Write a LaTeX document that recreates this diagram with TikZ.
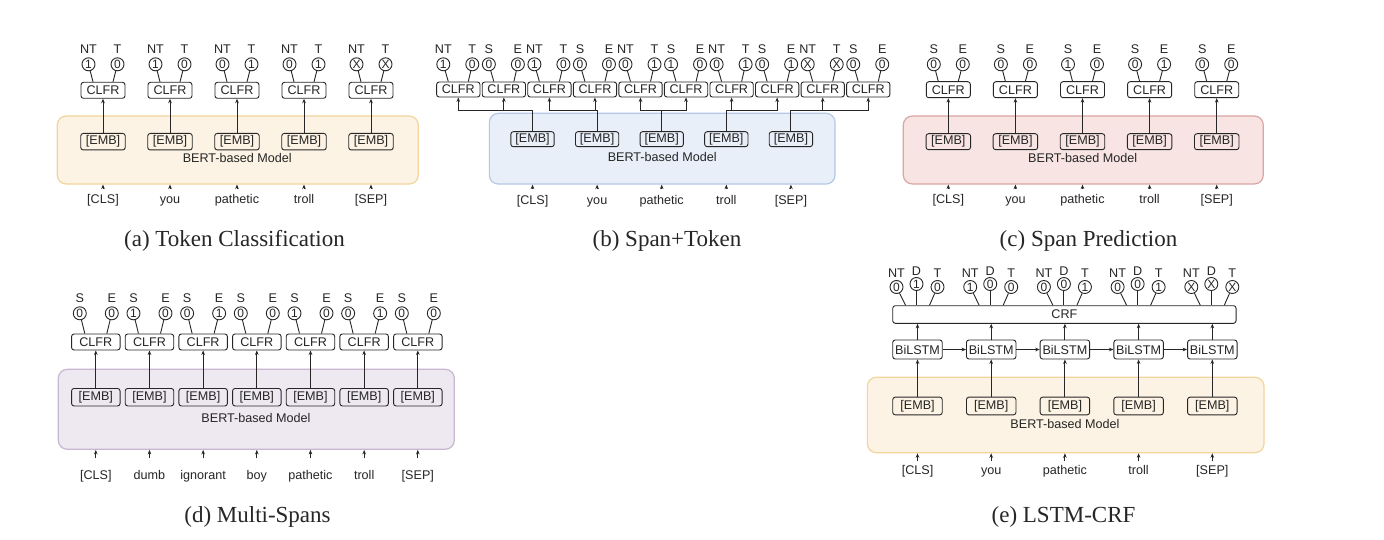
\documentclass[tikz,border=0pt]{standalone}
\usepackage{fontspec}
\setmainfont{Liberation Sans}
\newfontfamily\capfont{Liberation Serif}
\usepackage{tikz}
\usetikzlibrary{positioning}
\usetikzlibrary{arrows.meta,calc}

\definecolor{peach}{HTML}{FDF3E4}
\definecolor{peachline}{HTML}{F2D59C}
\definecolor{sky}{HTML}{E8EFF9}
\definecolor{skyline}{HTML}{B5C8E5}
\definecolor{rose}{HTML}{F8E5E3}
\definecolor{roseline}{HTML}{D8A6A3}
\definecolor{lilac}{HTML}{EEE8F1}
\definecolor{lilacline}{HTML}{C8B7D2}
\newcommand{\sfs}{\fontsize{12.6}{14}\selectfont}

\begin{document}
\begin{tikzpicture}[x=1pt,y=-1pt,color=black!85,line width=0.9pt,
    box/.style={draw,rounded corners=2.5pt,inner sep=0pt,minimum height=16pt,font=\sfs},
    bit/.style={circle,draw,inner sep=0pt,minimum size=13pt,font=\fontsize{12}{12}\selectfont},
    tag/.style={inner sep=0pt,font=\sfs},
    word/.style={inner sep=0pt,text height=9pt,text depth=2.5pt,font=\sfs},
    model/.style={inner sep=0pt,font=\sfs},
    bert/.style={rounded corners=9pt,line width=1.2pt,inner sep=0pt},
    subcap/.style={font=\capfont\fontsize{23}{26}\selectfont},
    >={Stealth[length=4.5pt,width=3.6pt]}]
    \fill[white] (0,0) rectangle (1384,540);
    \useasboundingbox (0,0) rectangle (1384,540);

    %(a) Token Classification
    \node[bert,fill=peach,draw=peachline,minimum width=361pt,minimum height=68pt] (a-bert) at (237.8,150) {};
    \node[model] (a-model) at (237.3,157.7) {BERT-based Model};
    \foreach \i/\va/\vb/\w in {1/1/0/{[CLS]},2/1/0/you,3/0/1/pathetic,4/0/1/troll,5/X/X/{[SEP]}}{
        \pgfmathsetmacro{\cx}{103+67*(\i-1)}
        \node[box,minimum width=44pt] (a-clfr\i) at (\cx,90.3) {CLFR};
        \node[box,minimum width=44.5pt,minimum height=16.5pt] (a-emb\i) at (\cx,141.7) {[EMB]};
        \node[bit] (a-nt\i) at (\cx-14.5,64.3) {\va};
        \node[bit] (a-t\i) at (\cx+14.5,64.3) {\vb};
        \node[tag,above=3pt of a-nt\i] (a-ntl\i) {NT};
        \node[tag,above=3pt of a-t\i] (a-tl\i) {T};
        \node[word,outer ysep=5pt] (a-w\i) at (\cx,200) {\w};
        \draw (a-nt\i) -- ($(a-clfr\i.north)+(-10,0)$);
        \draw (a-t\i) -- ($(a-clfr\i.north)+(10,0)$);
        \draw[->] (a-emb\i) -- (a-clfr\i);
        \draw[->] (a-w\i) -- (a-w\i |- a-bert.south);
    }
    \node[subcap] (a-cap) at (234.5,241) {(a) Token Classification};

    %(b) Span+Token
    \node[bert,fill=sky,draw=skyline,minimum width=345.7pt,minimum height=70.7pt] (b-bert) at (662.2,148.7) {};
    \node[model] (b-model) at (662.3,157.3) {BERT-based Model};
    \foreach \i/\ka/\va/\kb/\vb in {1/NT/1/T/0,2/S/0/E/0,3/NT/1/T/0,4/S/0/E/0,5/NT/0/T/1,6/S/1/E/0,7/NT/0/T/1,8/S/0/E/1,9/NT/X/T/X,10/S/0/E/0}{
        \pgfmathsetmacro{\cx}{458.3+45.55*(\i-1)}
        \node[box,minimum width=43.3pt,minimum height=15pt] (b-clfr\i) at (\cx,89.5) {CLFR};
        \node[bit] (b-l\i) at (\cx-15,64.3) {\va};
        \node[bit] (b-r\i) at (\cx+14,64.3) {\vb};
        \node[tag,above=3pt of b-l\i] (b-ll\i) {\ka};
        \node[tag,above=3pt of b-r\i] (b-rl\i) {\kb};
        \draw (b-l\i) -- ($(b-clfr\i.north)+(-10,0)$);
        \draw (b-r\i) -- ($(b-clfr\i.north)+(10,0)$);
    }
    \foreach \j/\w in {1/{[CLS]},2/you,3/pathetic,4/troll,5/{[SEP]}}{
        \pgfmathsetmacro{\cx}{532.5+64.6*(\j-1)}
        \pgfmathtruncatemacro{\m}{2*\j-1}
        \pgfmathtruncatemacro{\n}{2*\j}
        \node[box,minimum width=43.3pt,minimum height=15pt] (b-emb\j) at (\cx,139.2) {[EMB]};
        \coordinate (b-fork\j) at (\cx,110);
        \node[word,outer ysep=6pt] (b-w\j) at (\cx,201) {\w};
        \draw (b-emb\j) -- (b-fork\j);
        \draw[->] (b-fork\j) -| (b-clfr\m);
        \draw[->] (b-fork\j) -| (b-clfr\n);
        \draw[->] (b-w\j) -- (b-w\j |- b-bert.south);
    }
    \node[subcap] (b-cap) at (667,241) {(b) Span+Token};

    %(c) Span Prediction
    \node[bert,fill=rose,draw=roseline,minimum width=360pt,minimum height=68pt] (c-bert) at (1083.3,150) {};
    \node[model] (c-model) at (1082.7,157.7) {BERT-based Model};
    \foreach \i/\va/\vb/\w in {1/0/0/{[CLS]},2/0/0/you,3/1/0/pathetic,4/0/1/troll,5/0/0/{[SEP]}}{
        \pgfmathsetmacro{\cx}{948.3+67.1*(\i-1)}
        \node[box,minimum width=44pt] (c-clfr\i) at (\cx,89.7) {CLFR};
        \node[box,minimum width=44.5pt,minimum height=16pt] (c-emb\i) at (\cx,141.7) {[EMB]};
        \node[bit] (c-s\i) at (\cx-14.5,64.3) {\va};
        \node[bit] (c-e\i) at (\cx+14.5,64.3) {\vb};
        \node[tag,above=3pt of c-s\i] (c-sl\i) {S};
        \node[tag,above=3pt of c-e\i] (c-el\i) {E};
        \node[word,outer ysep=6pt] (c-w\i) at (\cx,200.5) {\w};
        \draw (c-s\i) -- ($(c-clfr\i.north)+(-10,0)$);
        \draw (c-e\i) -- ($(c-clfr\i.north)+(10,0)$);
        \draw[->] (c-emb\i) -- (c-clfr\i);
        \draw[->] (c-w\i) -- (c-w\i |- c-bert.south);
    }
    \node[subcap] (c-cap) at (1088.5,241) {(c) Span Prediction};

    %(d) Multi-Spans
    \node[bert,fill=lilac,draw=lilacline,minimum width=396pt,minimum height=80pt] (d-bert) at (256.3,409.3) {};
    \node[model] (d-model) at (256,418.3) {BERT-based Model};
    \foreach \i/\va/\vb/\w in {1/0/0/{[CLS]},2/1/0/dumb,3/0/1/ignorant,4/0/0/boy,5/1/0/pathetic,6/0/1/troll,7/0/0/{[SEP]}}{
        \pgfmathsetmacro{\cx}{95.8+53.67*(\i-1)}
        \node[box,minimum width=48.5pt] (d-clfr\i) at (\cx,342) {CLFR};
        \node[box,minimum width=48.5pt,minimum height=17.5pt] (d-emb\i) at (\cx,397.2) {[EMB]};
        \node[bit] (d-s\i) at (\cx-16,313.3) {\va};
        \node[bit] (d-e\i) at (\cx+16,313.3) {\vb};
        \node[tag,above=3pt of d-s\i] (d-sl\i) {S};
        \node[tag,above=3pt of d-e\i] (d-el\i) {E};
        \node[word,outer ysep=12pt] (d-w\i) at (\cx,476) {\w};
        \draw (d-s\i) -- ($(d-clfr\i.north)+(-11,0)$);
        \draw (d-e\i) -- ($(d-clfr\i.north)+(11,0)$);
        \draw[->] (d-emb\i) -- (d-clfr\i);
        \draw[->] (d-w\i) -- (d-w\i |- d-bert.south);
    }
    \node[subcap] (d-cap) at (257.5,517) {(d) Multi-Spans};

    %(e) LSTM-CRF
    \node[bert,fill=peach,draw=peachline,minimum width=396.7pt,minimum height=75.4pt] (e-bert) at (1065.7,415) {};
    \node[model] (e-model) at (1065,424) {BERT-based Model};
    \node[box,minimum width=343.3pt,minimum height=17.6pt] (e-crf) at (1064.4,314.5) {CRF};
    \foreach \i/\va/\vb/\vc/\w in {1/0/1/0/{[CLS]},2/1/0/0/you,3/0/0/1/pathetic,4/0/0/1/troll,5/X/X/X/{[SEP]}}{
        \pgfmathsetmacro{\cx}{917.5+73.7*(\i-1)}
        \node[box,minimum width=49.5pt,minimum height=19pt] (e-lstm\i) at (\cx,349.5) {BiLSTM};
        \node[box,minimum width=49.5pt,minimum height=17.7pt] (e-emb\i) at (\cx,406) {[EMB]};
        \node[bit] (e-nt\i) at (\cx-21,287) {\va};
        \node[bit] (e-dd\i) at (\cx-1,284) {\vb};
        \node[bit] (e-t\i) at (\cx+20,287) {\vc};
        \node[tag,above=2pt of e-nt\i] (e-ntl\i) {NT};
        \node[tag,above=1pt of e-dd\i] (e-ddl\i) {D};
        \node[tag,above=2pt of e-t\i] (e-tl\i) {T};
        \node[word,outer ysep=4pt] (e-w\i) at (\cx,471) {\w};
        \draw (e-nt\i) -- ($(e-lstm\i.north |- e-crf.north)+(-12,0)$);
        \draw (e-dd\i) -- (e-dd\i |- e-crf.north);
        \draw (e-t\i) -- ($(e-lstm\i.north |- e-crf.north)+(12,0)$);
        \draw[->] (e-emb\i) -- (e-lstm\i);
        \draw[->] (e-lstm\i) -- (e-lstm\i |- e-crf.south);
        \draw[->] (e-w\i) -- (e-w\i |- e-bert.south);
    }
    \foreach \i [count=\j from 2] in {1,...,4}
        \draw[->] (e-lstm\i) -- (e-lstm\j);
    \node[subcap] (e-cap) at (1063.5,517) {(e) LSTM-CRF};
\end{tikzpicture}
\end{document}
